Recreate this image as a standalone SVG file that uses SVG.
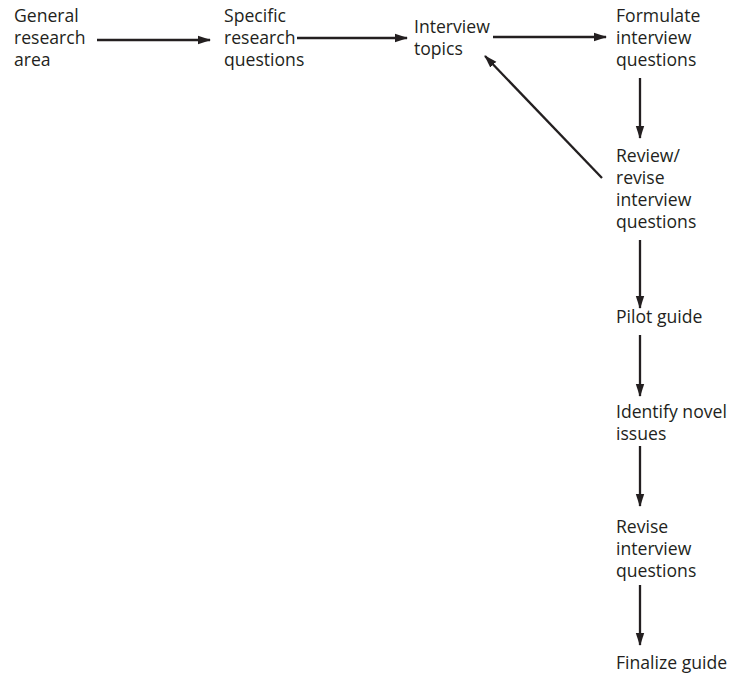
<svg xmlns="http://www.w3.org/2000/svg" width="731" height="676" viewBox="0 0 731 676">
<defs>
<marker id="ah" markerWidth="13" markerHeight="10" refX="12" refY="5" orient="auto" markerUnits="userSpaceOnUse">
<path d="M0,0.8 L13,5 L0,9.2 Z" fill="#231f20"/>
</marker>
</defs>
<style>
text{font-family:"Open Sans","Noto Sans",sans-serif;font-size:17.6px;fill:#231f20}
.c line{stroke:#231f20;stroke-width:2.3;marker-end:url(#ah)}
</style>
<rect width="731" height="676" fill="#fff"/>
<g id="n1"><text x="14" y="22">General</text><text x="14" y="44">research</text><text x="14" y="66">area</text></g>
<g id="n2"><text x="224" y="22">Specific</text><text x="224" y="44">research</text><text x="224" y="66">questions</text></g>
<g id="n3"><text x="414" y="33">Interview</text><text x="414" y="55">topics</text></g>
<g id="n4"><text x="616" y="22">Formulate</text><text x="616" y="44">interview</text><text x="616" y="66">questions</text></g>
<g id="n5"><text x="616" y="162">Review/</text><text x="616" y="184">revise</text><text x="616" y="206">interview</text><text x="616" y="228">questions</text></g>
<g id="n6"><text x="616" y="323">Pilot guide</text></g>
<g id="n7"><text x="616" y="418">Identify novel</text><text x="616" y="440">issues</text></g>
<g id="n8"><text x="616" y="533">Revise</text><text x="616" y="555">interview</text><text x="616" y="577">questions</text></g>
<g id="n9"><text x="616" y="669">Finalize guide</text></g>
<g class="c" id="connectors">
<line x1="97" y1="40" x2="210" y2="40"/>
<line x1="297" y1="38" x2="407" y2="38"/>
<line x1="493" y1="37" x2="606" y2="37"/>
<line x1="640" y1="78" x2="640" y2="138"/>
<line x1="602" y1="178" x2="485" y2="56"/>
<line x1="640" y1="240" x2="640" y2="308"/>
<line x1="640" y1="335" x2="640" y2="396"/>
<line x1="640" y1="446" x2="640" y2="506"/>
<line x1="640" y1="585" x2="640" y2="645"/>
</g>
</svg>
